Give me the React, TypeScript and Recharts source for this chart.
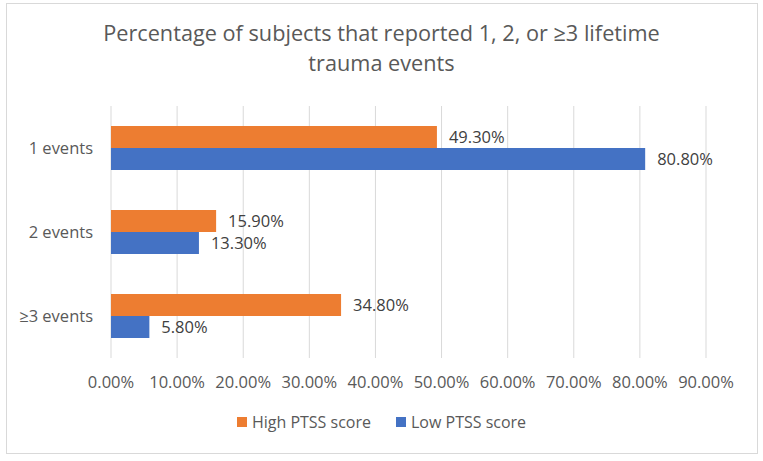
import React from 'react'
import { BarChart, Bar, XAxis, YAxis, CartesianGrid, Legend, LabelList } from 'recharts'

// Share of subjects by number of lifetime trauma events (percent)
const categories = ['1 events', '2 events', '≥3 events']
const highPtss = [49.3, 15.9, 34.8]
const lowPtss = [80.8, 13.3, 5.8]
const xTicks = [0, 10, 20, 30, 40, 50, 60, 70, 80, 90]

const seriesNames = { high: 'High PTSS score', low: 'Low PTSS score' }
const ORANGE = '#ED7D31'
const BLUE = '#4472C4'
const TEXT = '#595959'
const FONT = '"Open Sans", "Noto Sans", sans-serif'

const chartData = categories.map((name, i) => ({
  name,
  high: highPtss[i],
  low: lowPtss[i],
}))

const pct = (v: any) => `${Number(v).toFixed(2)}%`

const LegendContent = () => {
  const items = [
    { label: seriesNames.high, color: ORANGE },
    { label: seriesNames.low, color: BLUE },
  ]
  return (
    <div style={{ display: 'flex', justifyContent: 'center', fontFamily: FONT, fontSize: 16, color: TEXT, height: 22 }}>
      {items.map((it, i) => (
        <div key={it.label} style={{ display: 'flex', alignItems: 'center', marginLeft: i === 0 ? 0 : 25 }}>
          <span style={{ width: 10, height: 10, background: it.color, display: 'inline-block', marginRight: 5 }} />
          <span>{it.label}</span>
        </div>
      ))}
    </div>
  )
}

export default function App() {
  return (
    <div style={{ position: 'absolute', left: 0, top: 0, width: 763, height: 461, background: '#fff', fontFamily: FONT }}>
      {/* chart frame */}
      <div
        style={{
          position: 'absolute',
          left: 6,
          top: 3,
          width: 750,
          height: 449,
          border: '1px solid #d9d9d9',
        }}
      />
      <div
        style={{
          position: 'absolute',
          left: 6,
          top: 18,
          width: 751,
          textAlign: 'center',
          fontSize: 21.7,
          lineHeight: '30px',
          color: TEXT,
        }}
      >
        Percentage of subjects that reported 1, 2, or ≥3 lifetime
        <br />
        trauma events
      </div>
      <BarChart
        width={763}
        height={461}
        data={chartData}
        layout="vertical"
        margin={{ top: 106, right: 57, bottom: 41, left: 0 }}
        barGap={0}
        style={{ position: 'absolute', left: 0, top: 0 }}
      >
        <CartesianGrid horizontal={false} stroke="#d9d9d9" strokeWidth={1} />
        <XAxis
          type="number"
          domain={[0, 90]}
          ticks={xTicks}
          tickFormatter={pct}
          axisLine={false}
          tickLine={false}
          tickSize={0}
          tickMargin={18}
          tick={{ fill: TEXT, fontSize: 16.5, fontFamily: FONT }}
          height={40}
        />
        <YAxis
          type="category"
          dataKey="name"
          width={111}
          axisLine={false}
          tickLine={false}
          tickSize={0}
          tickMargin={18}
          tick={{ fill: TEXT, fontSize: 16.5, fontFamily: FONT }}
        />
        <Legend
          verticalAlign="bottom"
          content={<LegendContent />}
          wrapperStyle={{ left: 0, width: 763, top: 411, bottom: 'auto' }}
        />
        <Bar dataKey="high" name={seriesNames.high} fill={ORANGE} barSize={22} isAnimationActive={false}>
          <LabelList dataKey="high" position="right" offset={12} formatter={pct} fill="#404040" fontSize={16.5} fontFamily={FONT} />
        </Bar>
        <Bar dataKey="low" name={seriesNames.low} fill={BLUE} barSize={22} isAnimationActive={false}>
          <LabelList dataKey="low" position="right" offset={12} formatter={pct} fill="#404040" fontSize={16.5} fontFamily={FONT} />
        </Bar>
      </BarChart>
    </div>
  )
}
